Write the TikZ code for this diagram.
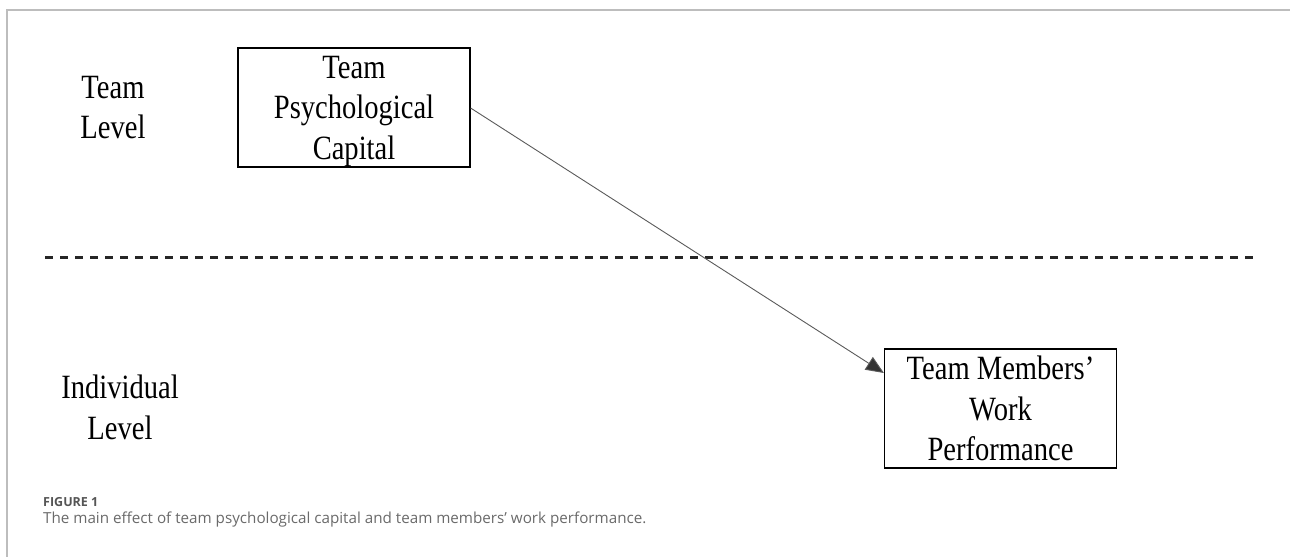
\documentclass[tikz,border=0pt]{standalone}
\usepackage{fontspec}
\newfontfamily\figfont[FakeStretch=0.84]{Liberation Serif}
\newfontfamily\capfont{Open Sans}
\usetikzlibrary{arrows.meta}
\definecolor{framegray}{HTML}{BDBDBD}
\definecolor{capgray}{HTML}{555555}
\definecolor{captext}{HTML}{6A6A6A}
\definecolor{arrowgray}{HTML}{5A5A5A}
\begin{document}
\begin{tikzpicture}[x=1pt,y=-1pt,
  lbl/.style={font=\figfont\fontsize{34}{40.5}\selectfont, align=center, inner sep=0pt},
  conceptbox/.style={draw=black, line width=1.2pt, inner sep=0pt, align=center,
    font=\figfont\fontsize{34}{40.5}\selectfont, minimum width=232pt, minimum height=119pt},
  levelline/.style={dash pattern=on 8pt off 7pt, line width=3pt, black!85},
  effect/.style={draw=arrowgray, line width=0.9pt, -{Triangle[length=18pt,width=15pt,fill=black!80]}},
  frameline/.style={framegray, line width=2pt}]
\useasboundingbox (0,0) rectangle (1290,557);
\draw[frameline] (1290,10) -- (7,10) -- (7,557);
\node[conceptbox, text depth=0pt] (tpc) at (354,107.5) {Team\\Psychological\\Capital};
\node[conceptbox] (twp) at (1000.5,408.5) {Team Members’\\Work\\Performance};
\node[lbl] (tl) at (113,107.75) {Team\\Level};
\node[lbl] (il) at (120,407.5) {Individual\\Level};
\coordinate (dl) at (45,257);
\coordinate (dr) at (1257,257);
\draw[levelline] (dl) -- (dr);
\draw[effect] ([yshift=-0.5pt]tpc.east) -- ([yshift=35.5pt]twp.west);
\node[anchor=base west, font=\capfont\bfseries\fontsize{12.5}{14}\selectfont, text=capgray, inner sep=0pt] (fig) at (43,506) {FIGURE 1};
\node[anchor=base west, font=\capfont\fontsize{15.2}{18}\selectfont, text=captext, inner sep=0pt] (cap) at (43,523) {The main effect of team psychological capital and team members’ work performance.};
\end{tikzpicture}
\end{document}
